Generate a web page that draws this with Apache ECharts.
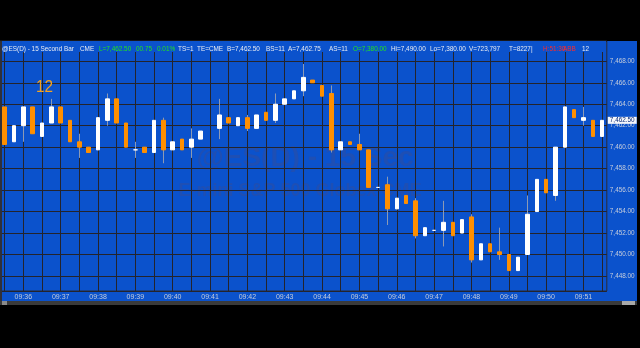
<!DOCTYPE html>
<html>
<head>
<meta charset="utf-8">
<script src="https://cdn.jsdelivr.net/npm/echarts@6/dist/echarts.min.js"></script>
<style>html,body{margin:0;padding:0;background:#000;}#c{width:640px;height:348px;}</style>
</head>
<body>
<div id="c"></div>
<script>
var times = ["09:35:30","09:35:45","09:36:00","09:36:15","09:36:30","09:36:45","09:37:00","09:37:15","09:37:30","09:37:45",
"09:38:00","09:38:15","09:38:30","09:38:45","09:39:00","09:39:15","09:39:30","09:39:45","09:40:00","09:40:15",
"09:40:30","09:40:45","09:41:00","09:41:15","09:41:30","09:41:45","09:42:00","09:42:15","09:42:30","09:42:45",
"09:43:00","09:43:15","09:43:30","09:43:45","09:44:00","09:44:15","09:44:30","09:44:45","09:45:00","09:45:15",
"09:45:30","09:45:45","09:46:00","09:46:15","09:46:30","09:46:45","09:47:00","09:47:15","09:47:30","09:47:45",
"09:48:00","09:48:15","09:48:30","09:48:45","09:49:00","09:49:15","09:49:30","09:49:45","09:50:00","09:50:15",
"09:50:30","09:50:45","09:51:00","09:51:15","09:51:30"];
var opens  = [7463.75,7460.5,7462.0,7463.75,7461.0,7462.25,7463.75,7462.5,7460.5,7460.0,
7459.75,7462.5,7464.5,7462.25,7459.75,7460.0,7459.5,7462.5,7459.75,7460.75,
7460.0,7460.75,null,7461.75,7462.75,7462.0,7462.75,7461.75,7463.25,7462.5,
7464.0,7464.5,7465.25,7466.25,7465.75,7465.0,7459.75,7460.5,7460.25,7459.75,
7456.25,7456.5,7454.25,7455.5,7455.0,7451.75,7452.25,7452.25,7453.0,7452.0,
7453.5,7449.5,7451.0,7450.25,7450.0,7448.5,7450.0,7454.0,7457.0,7455.5,
7460.0,7463.5,7462.5,7462.5,7461.0];
var highs  = [7463.75,7462.0,7463.75,7463.75,7462.25,7464.5,7463.75,7462.5,7461.25,7460.0,
7462.75,7465.0,7464.5,7462.25,7460.5,7460.0,7462.5,7462.75,7460.5,7460.75,
7461.75,7461.5,null,7464.5,7462.75,7462.75,7463.0,7463.0,7463.25,7465.0,
7464.5,7465.25,7467.75,7466.25,7465.75,7465.75,7460.5,7460.5,7461.25,7459.75,
7456.25,7457.25,7455.25,7455.5,7455.25,7452.5,7452.25,7455.0,7453.0,7453.25,
7453.75,7451.0,7451.0,7452.5,7450.0,7449.75,7455.5,7457.0,7457.0,7460.0,
7463.75,7463.5,7463.75,7462.5,7462.5];
var lows   = [7460.25,7460.5,7460.5,7461.25,7461.0,7462.25,7462.25,7460.5,7459.0,7459.5,
7459.75,7462.0,7462.25,7460.0,7459.0,7459.5,7459.5,7458.5,7459.75,7459.75,
7459.0,7460.75,null,7460.75,7462.25,7462.0,7461.5,7461.75,7462.5,7462.25,
7464.0,7464.5,7464.75,7466.0,7464.75,7459.5,7459.75,7460.25,7459.75,7456.25,
7456.25,7452.75,7454.25,7454.75,7451.5,7451.75,7452.25,7450.75,7451.75,7452.0,
7449.25,7449.5,7450.25,7449.5,7448.5,7448.5,7450.0,7454.0,7455.75,7455.0,
7460.0,7462.75,7462.0,7461.0,7461.0];
var closes = [7460.25,7462.0,7463.75,7461.25,7462.25,7463.75,7462.25,7460.5,7460.0,7459.5,
7462.75,7464.5,7462.25,7460.0,7459.75,7459.5,7462.5,7459.75,7460.5,7459.75,
7460.75,7461.5,null,7463.0,7462.25,7462.75,7461.75,7463.0,7462.5,7464.0,
7464.5,7465.25,7466.5,7466.0,7464.75,7459.75,7460.5,7460.25,7459.75,7456.25,
7456.25,7454.25,7455.25,7454.75,7451.75,7452.5,7452.25,7453.0,7451.75,7453.25,
7449.5,7451.0,7450.25,7450.0,7448.5,7449.75,7453.75,7457.0,7455.75,7460.0,
7463.75,7462.75,7462.75,7461.0,7462.5];
var yMin = 7446.6, yMax = 7469.89;
var lastPrice = closes[closes.length - 1];

var BLUE = '#0b52cc', GRID = '#24242c', UP = '#ffffff', DOWN = '#ff8f00', WICK = '#8c9ab4';

function fmt(v) {
  return Number(v).toLocaleString('en-US', {minimumFractionDigits: 2, maximumFractionDigits: 2});
}
var wickData = [], bodyData = [];
for (var i = 0; i < times.length; i++) {
  if (opens[i] == null) { wickData.push(['-','-','-','-']); bodyData.push(['-','-','-','-']); continue; }
  wickData.push([opens[i], closes[i], lows[i], highs[i]]);
  bodyData.push([opens[i], closes[i], Math.min(opens[i], closes[i]), Math.max(opens[i], closes[i])]);
}

var FONT = '"Liberation Sans", Arial, sans-serif';
var header = [
  [2, '@ES(D) - 15 Second Bar', '#e8ecf4'],
  [80, 'CME', '#e8ecf4'],
  [99, 'L=7,462.50', '#22e022'],
  [136, '00.75', '#22e022'],
  [157, '0.01%', '#22e022'],
  [178, 'TS=1', '#e8ecf4'],
  [197, 'TE=CME', '#e8ecf4'],
  [227, 'B=7,462.50', '#e8ecf4'],
  [266, 'BS=11', '#e8ecf4'],
  [288, 'A=7,462.75', '#e8ecf4'],
  [329, 'AS=11', '#e8ecf4'],
  [353, 'O=7,380.00', '#22e022'],
  [391, 'Hi=7,490.00', '#e8ecf4'],
  [430, 'Lo=7,380.00', '#e8ecf4'],
  [469, 'V=723,797', '#e8ecf4'],
  [509, 'T=8227|', '#e8ecf4'],
  [543, 'H:51:30', '#ff2a2a'],
  [563, 'ABB', '#ff2a2a'],
  [582, '12', '#e8ecf4']
];
var graphics = [
  {type: 'rect', shape: {x: 0, y: 41, width: 637, height: 260}, style: {fill: BLUE}, z: -10, silent: true},
  {type: 'text', x: 305, y: 158, z: -5, silent: true, style: {text: '@ES(D) - 15 Sec', font: 'bold 28px "Liberation Sans", Arial, sans-serif', fill: '#1e4fb4', textAlign: 'center', textVerticalAlign: 'middle'}},
  {type: 'text', x: 300, y: 191, z: -5, silent: true, style: {text: 'E-mini S&P 500 Globex CME', font: 'bold 18px "Liberation Sans", Arial, sans-serif', fill: '#1e4fb4', textAlign: 'center', textVerticalAlign: 'middle'}},
  {type: 'rect', shape: {x: 2, y: 41, width: 604, height: 11}, style: {fill: BLUE}, z: 5, silent: true},
  {type: 'rect', shape: {x: 0, y: 41, width: 2, height: 260}, style: {fill: '#303038'}, z: 6, silent: true},
  {type: 'rect', shape: {x: 0, y: 301, width: 637, height: 4}, style: {fill: '#3a3a3a'}, z: 6, silent: true},
  {type: 'rect', shape: {x: 2, y: 301, width: 5, height: 4}, style: {fill: '#8a8a8a'}, z: 7, silent: true},
  {type: 'rect', shape: {x: 622, y: 301, width: 13, height: 4}, style: {fill: '#a8a8a8'}, z: 7, silent: true},
  {type: 'text', x: 36, y: 87, z: 6, silent: true, scaleX: 0.9, style: {text: '12', font: '17px ' + FONT, fill: '#f4a21f', textVerticalAlign: 'middle'}}
];
header.forEach(function (h) {
  graphics.push({type: 'text', x: h[0], y: 48.5, z: 6, silent: true, scaleX: 0.8,
    style: {text: h[1], font: '8px ' + FONT, fill: h[2], textVerticalAlign: 'middle'}});
});

var chart = echarts.init(document.getElementById('c'), null, {renderer: 'canvas'});
chart.setOption({
  animation: false,
  backgroundColor: '#000',
  grid: {left: 0, right: 33.2, top: 41, bottom: 57, show: true, borderColor: '#2c2c34', borderWidth: 1, backgroundColor: 'transparent', containLabel: false},
  xAxis: {
    type: 'category', data: times, boundaryGap: true,
    axisLine: {show: false}, axisTick: {show: false},
    axisLabel: {interval: function (i) { return i % 4 === 2; }, formatter: function (v) { return v.slice(0, 5); },
      color: '#c4ccdc', fontSize: 7, fontFamily: FONT, margin: 3},
    splitLine: {show: true, alignWithLabel: true, interval: function (i) { return i % 2 === 0; }, lineStyle: {color: GRID, width: 1}}
  },
  yAxis: {
    type: 'value', position: 'right', min: yMin, max: yMax, splitNumber: 10, minInterval: 2, maxInterval: 2, scale: true,
    axisLine: {show: false}, axisTick: {show: false},
    axisLabel: {formatter: fmt, showMinLabel: false, showMaxLabel: false, color: '#c4ccdc', fontSize: 6.4, fontFamily: FONT, margin: 3},
    splitLine: {show: true, lineStyle: {color: GRID, width: 1}}
  },
  graphic: graphics,
  series: [
    {type: 'candlestick', name: 'wick', data: wickData, barWidth: 1, z: 2, silent: true,
      itemStyle: {color: WICK, color0: WICK, borderColor: WICK, borderColor0: WICK, borderColorDoji: WICK, borderWidth: 1}},
    {type: 'candlestick', name: 'body', data: bodyData, barWidth: 4, z: 3, silent: true,
      itemStyle: {color: UP, color0: DOWN, borderColor: UP, borderColor0: DOWN, borderColorDoji: UP, borderWidth: 1},
      markLine: {symbol: 'none', silent: true, animation: false,
        lineStyle: {color: 'transparent', width: 0},
        label: {show: true, position: 'end', distance: 1, formatter: function () { return fmt(lastPrice); },
          backgroundColor: '#f4f6fa', color: '#0a2a7a', fontSize: 6.4, fontFamily: FONT, padding: [1, 2, 0, 2]},
        data: [{yAxis: lastPrice}]}}
  ]
});
</script>
</body>
</html>
